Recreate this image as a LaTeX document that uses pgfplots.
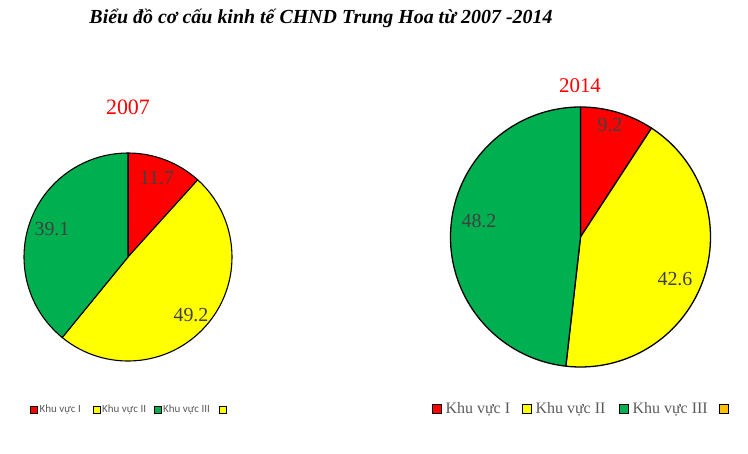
\documentclass[border=0pt]{standalone}
\usepackage{pgfplots}
\pgfplotsset{compat=1.18}
\usepackage{fontspec}
\setmainfont{Liberation Serif}
\newfontfamily\carl{Carlito}
\definecolor{cRed}{HTML}{FF0000}
\definecolor{cYel}{HTML}{FFFF00}
\definecolor{cGrn}{HTML}{00B050}
\definecolor{cOrg}{HTML}{FFC000}
\definecolor{lab}{HTML}{404040}
\definecolor{leg}{HTML}{595959}
\begin{document}
\begin{tikzpicture}
\useasboundingbox (0,0) rectangle (748bp,454bp);
\begin{axis}[x=1bp,y=1bp,xmin=0,xmax=748,ymin=0,ymax=454,hide axis,
  scale only axis,clip=false,anchor=south west,at={(0,0)}]
% data: 2007 -> 11.7, 49.2, 39.1 ; 2014 -> 9.2, 42.6, 48.2
% ---- 2007 pie
\filldraw[fill=cRed,draw=black,line width=1.1pt,line join=round] (axis cs:128,197) -- ++(90:104bp) arc[start angle=90,end angle={90-3.6*11.7},radius=104bp] -- cycle;
\filldraw[fill=cYel,draw=black,line width=1.1pt,line join=round] (axis cs:128,197) -- ++({90-3.6*11.7}:104bp) arc[start angle={90-3.6*11.7},end angle={90-3.6*(11.7+49.2)},radius=104bp] -- cycle;
\filldraw[fill=cGrn,draw=black,line width=1.1pt,line join=round] (axis cs:128,197) -- ++({90-3.6*(11.7+49.2)}:104bp) arc[start angle={90-3.6*(11.7+49.2)},end angle={90-3.6*100},radius=104bp] -- cycle;
% ---- 2014 pie
\filldraw[fill=cRed,draw=black,line width=1.3pt,line join=round] (axis cs:580.5,217) -- ++(90:130bp) arc[start angle=90,end angle={90-3.6*9.2},radius=130bp] -- cycle;
\filldraw[fill=cYel,draw=black,line width=1.3pt,line join=round] (axis cs:580.5,217) -- ++({90-3.6*9.2}:130bp) arc[start angle={90-3.6*9.2},end angle={90-3.6*(9.2+42.6)},radius=130bp] -- cycle;
\filldraw[fill=cGrn,draw=black,line width=1.3pt,line join=round] (axis cs:580.5,217) -- ++({90-3.6*(9.2+42.6)}:130bp) arc[start angle={90-3.6*(9.2+42.6)},end angle={90-3.6*100},radius=130bp] -- cycle;
% ---- value labels
\node[text=lab,font=\fontsize{20}{20}\selectfont] at (axis cs:157,276) {11.7};
\node[text=lab,font=\fontsize{20}{20}\selectfont] at (axis cs:191,139) {49.2};
\node[text=lab,font=\fontsize{20}{20}\selectfont] at (axis cs:52,225) {39.1};
\node[text=lab,font=\fontsize{20}{20}\selectfont] at (axis cs:610,329) {9.2};
\node[text=lab,font=\fontsize{20}{20}\selectfont] at (axis cs:675,175) {42.6};
\node[text=lab,font=\fontsize{20}{20}\selectfont] at (axis cs:479,233) {48.2};
% ---- titles
\node[font=\fontsize{20}{20}\selectfont\bfseries\itshape] at (axis cs:321,436) {Biểu đồ cơ cấu kinh tế CHND Trung Hoa từ 2007 -2014};
\node[text=cRed,font=\fontsize{22}{22}\selectfont] at (axis cs:128,347) {2007};
\node[text=cRed,font=\fontsize{21}{21}\selectfont] at (axis cs:580,368) {2014};
% ---- legend 2007
\filldraw[fill=cRed,draw=black,line width=0.8pt] (axis cs:30,41) rectangle (axis cs:37,48);
\filldraw[fill=cYel,draw=black,line width=0.8pt] (axis cs:93,41) rectangle (axis cs:100,48);
\filldraw[fill=cGrn,draw=black,line width=0.8pt] (axis cs:154,41) rectangle (axis cs:161,48);
\filldraw[fill=cYel,draw=black,line width=0.8pt] (axis cs:219,41) rectangle (axis cs:226,48);
\node[anchor=west,inner sep=0,text=leg,font=\carl\fontsize{11}{11}\selectfont] at (axis cs:39.5,44.5) {Khu vực I};
\node[anchor=west,inner sep=0,text=leg,font=\carl\fontsize{11}{11}\selectfont] at (axis cs:102,44.5) {Khu vực II};
\node[anchor=west,inner sep=0,text=leg,font=\carl\fontsize{11}{11}\selectfont] at (axis cs:163,44.5) {Khu vực III};
% ---- legend 2014
\filldraw[fill=cRed,draw=black,line width=0.9pt] (axis cs:432.5,40.5) rectangle (axis cs:441.5,49.5);
\filldraw[fill=cYel,draw=black,line width=0.9pt] (axis cs:522.5,40.5) rectangle (axis cs:531.5,49.5);
\filldraw[fill=cGrn,draw=black,line width=0.9pt] (axis cs:619.5,40.5) rectangle (axis cs:628.5,49.5);
\filldraw[fill=cOrg,draw=black,line width=0.9pt] (axis cs:719.5,40.5) rectangle (axis cs:728.5,49.5);
\node[anchor=west,inner sep=0,text=leg,font=\fontsize{16}{16}\selectfont] at (axis cs:445.5,44.5) {Khu vực I};
\node[anchor=west,inner sep=0,text=leg,font=\fontsize{16}{16}\selectfont] at (axis cs:535.5,44.5) {Khu vực II};
\node[anchor=west,inner sep=0,text=leg,font=\fontsize{16}{16}\selectfont] at (axis cs:632.5,44.5) {Khu vực III};
\end{axis}
\end{tikzpicture}
\end{document}
